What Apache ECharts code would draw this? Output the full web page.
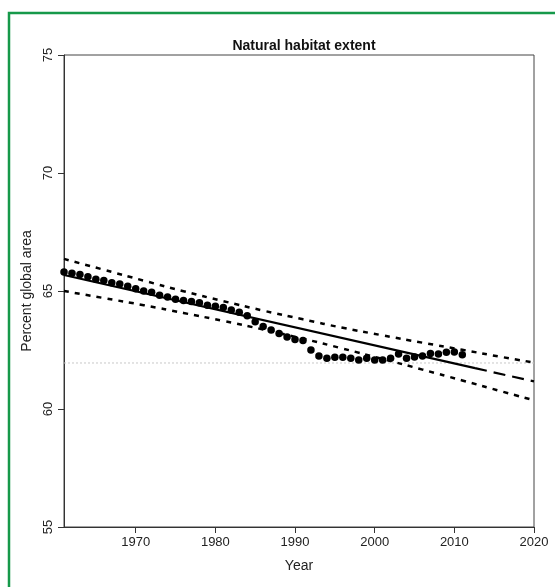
<!DOCTYPE html>
<html>
<head>
<meta charset="utf-8">
<script src="https://cdn.jsdelivr.net/npm/echarts@6/dist/echarts.min.js"></script>
<style>
html,body{margin:0;padding:0;background:#fff;}
#chart{width:555px;height:587px;}
</style>
</head>
<body>
<div id="chart"></div>
<script>
// ---- data ----
const years = [1961,1962,1963,1964,1965,1966,1967,1968,1969,1970,
               1971,1972,1973,1974,1975,1976,1977,1978,1979,1980,
               1981,1982,1983,1984,1985,1986,1987,1988,1989,1990,
               1991,1992,1993,1994,1995,1996,1997,1998,1999,2000,
               2001,2002,2003,2004,2005,2006,2007,2008,2009,2010,2011];
const habitat = [65.80,65.75,65.70,65.60,65.50,65.45,65.35,65.30,65.20,65.10,
                 65.00,64.95,64.82,64.75,64.65,64.60,64.55,64.50,64.40,64.35,
                 64.30,64.20,64.10,63.95,63.70,63.50,63.35,63.20,63.05,62.95,
                 62.90,62.50,62.25,62.15,62.19,62.19,62.15,62.08,62.15,62.08,
                 62.08,62.15,62.33,62.15,62.20,62.25,62.35,62.33,62.40,62.42,62.30];

const fitYears = [1961, 2012.6];
const fitValues = [65.68, 61.73];
const projYears = [2012.6, 2020];
const projValues = [61.73, 61.17];

const ciYears = [1961,1966,1971,1976,1981,1986,1991,1996,2001,2006,2011,2016,2020];
const ciUpper = [66.36,65.90,65.44,64.99,64.57,64.17,63.80,63.44,63.12,62.81,62.51,62.20,61.97];
const ciLower = [65.00,64.70,64.40,64.07,63.73,63.37,62.98,62.56,62.12,61.67,61.21,60.74,60.37];

const refLevel = 61.95;

const xTicks = [1970,1980,1990,2000,2010,2020];
const yTicks = [55,60,65,70,75];

const titleText = 'Natural habitat extent';
const xName = 'Year';
const yName = 'Percent global area';

// ---- build ----
const zip = (a, b) => a.map((v, i) => [v, b[i]]);
const FONT = 'Liberation Sans, Arial, sans-serif';

const chart = echarts.init(document.getElementById('chart'), null, {renderer: 'canvas'});
chart.setOption({
  animation: false,
  backgroundColor: '#fff',
  title: {
    text: titleText,
    left: 299,
    top: 34,
    textAlign: 'center',
    textStyle: {fontFamily: FONT, fontSize: 14, fontWeight: 'bold', color: '#111'}
  },
  graphic: [{
    type: 'rect',
    shape: {x: 9, y: 13, width: 560, height: 590},
    style: {fill: 'none', stroke: '#16994a', lineWidth: 2.5},
    silent: true
  }],
  grid: {
    left: 64, top: 55, width: 470, height: 472,
    show: true, borderColor: '#444', borderWidth: 1, backgroundColor: 'transparent'
  },
  xAxis: {
    type: 'value', min: 1961, max: 2020,
    name: xName, nameLocation: 'middle', nameGap: 32,
    nameTextStyle: {fontFamily: FONT, fontSize: 14, color: '#222'},
    axisLine: {show: true, lineStyle: {color: '#333', width: 1}},
    axisTick: {show: true, length: 6, customValues: xTicks, lineStyle: {color: '#333', width: 1}},
    axisLabel: {customValues: xTicks, margin: 9, fontFamily: FONT, fontSize: 13, color: '#222',
                formatter: v => String(v)},
    splitLine: {show: false}
  },
  yAxis: {
    type: 'value', min: 55, max: 75, interval: 5,
    name: yName, nameLocation: 'middle', nameGap: 28,
    nameTextStyle: {fontFamily: FONT, fontSize: 14, color: '#222'},
    axisLine: {show: true, lineStyle: {color: '#333', width: 1}},
    axisTick: {show: true, length: 6, lineStyle: {color: '#333', width: 1}},
    axisLabel: {rotate: 90, margin: 9, fontFamily: FONT, fontSize: 13, color: '#222',
                formatter: v => String(v)},
    splitLine: {show: false}
  },
  series: [
    {
      type: 'line', data: [[1961, refLevel], [2020, refLevel]],
      symbol: 'none', lineStyle: {color: '#c8c8c8', width: 1, type: [2, 2]}, z: 1
    },
    {
      type: 'line', data: zip(ciYears, ciUpper), smooth: true,
      symbol: 'none', lineStyle: {color: '#000', width: 2.5, type: [5, 6]}
    },
    {
      type: 'line', data: zip(ciYears, ciLower), smooth: true,
      symbol: 'none', lineStyle: {color: '#000', width: 2.5, type: [5, 6]}
    },
    {
      type: 'line', data: zip(fitYears, fitValues),
      symbol: 'none', lineStyle: {color: '#000', width: 2.2, type: 'solid'}
    },
    {
      type: 'line', data: zip(projYears, projValues),
      symbol: 'none', lineStyle: {color: '#000', width: 2.2, type: [12, 7]}
    },
    {
      type: 'scatter', data: zip(years, habitat),
      symbol: 'circle', symbolSize: 7.5,
      itemStyle: {color: '#000', opacity: 1}, z: 5
    }
  ]
});
</script>
</body>
</html>
